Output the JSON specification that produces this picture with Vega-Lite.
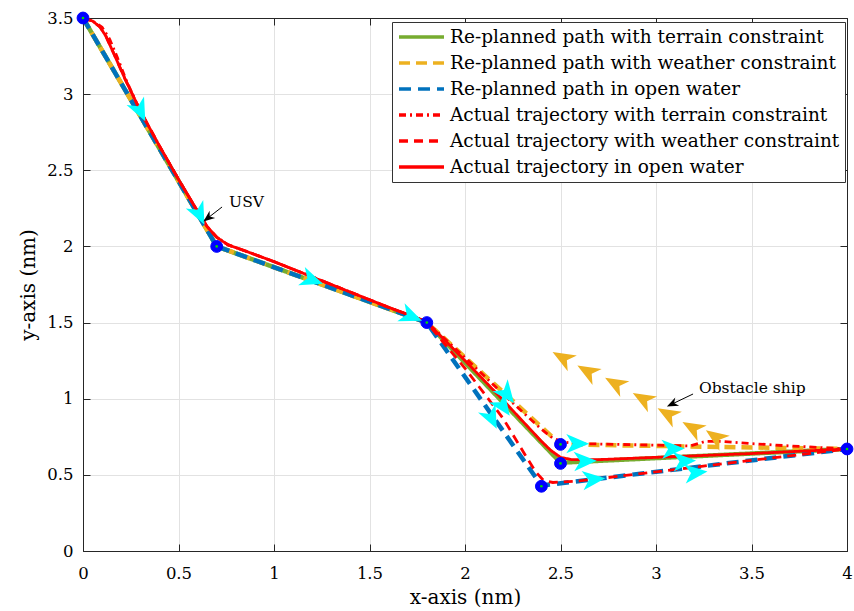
{
  "$schema": "https://vega.github.io/schema/vega-lite/v6.json",
  "width": 764,
  "height": 533,
  "autosize": {"type": "none"},
  "padding": {"left": 83, "top": 18, "right": 7, "bottom": 60},
  "background": "white",
  "config": {
    "view": {"stroke": "#262626", "strokeWidth": 1},
    "font": "DejaVu Serif",
    "axis": {
      "labelFont": "DejaVu Serif",
      "titleFont": "DejaVu Serif",
      "labelFontSize": 16.5,
      "titleFontSize": 20,
      "titleFontWeight": "normal",
      "labelColor": "black",
      "titleColor": "black",
      "domainColor": "#262626",
      "tickColor": "#262626",
      "gridColor": "#e2e2e2",
      "tickSize": -7,
      "labelFlush": false
    }
  },
  "datasets": {
    "lines": [
      {"series": "Re-planned path with terrain constraint", "i": 0, "x": 0, "y": 3.5},
      {"series": "Re-planned path with terrain constraint", "i": 1, "x": 0.7, "y": 2.0},
      {"series": "Re-planned path with terrain constraint", "i": 2, "x": 1.8, "y": 1.5},
      {"series": "Re-planned path with terrain constraint", "i": 3, "x": 2.5, "y": 0.58},
      {"series": "Re-planned path with terrain constraint", "i": 4, "x": 4.0, "y": 0.67},
      {"series": "Re-planned path with weather constraint", "i": 0, "x": 0, "y": 3.5},
      {"series": "Re-planned path with weather constraint", "i": 1, "x": 0.7, "y": 2.0},
      {"series": "Re-planned path with weather constraint", "i": 2, "x": 1.8, "y": 1.5},
      {"series": "Re-planned path with weather constraint", "i": 3, "x": 2.5, "y": 0.7},
      {"series": "Re-planned path with weather constraint", "i": 4, "x": 4.0, "y": 0.67},
      {"series": "Re-planned path in open water", "i": 0, "x": 0, "y": 3.5},
      {"series": "Re-planned path in open water", "i": 1, "x": 0.7, "y": 2.0},
      {"series": "Re-planned path in open water", "i": 2, "x": 1.8, "y": 1.5},
      {"series": "Re-planned path in open water", "i": 3, "x": 2.4, "y": 0.43},
      {"series": "Re-planned path in open water", "i": 4, "x": 4.0, "y": 0.67},

      {"series": "Actual trajectory with terrain constraint", "i": 0, "x": 0, "y": 3.5},
      {"series": "Actual trajectory with terrain constraint", "i": 1, "x": 0.05, "y": 3.48},
      {"series": "Actual trajectory with terrain constraint", "i": 2, "x": 0.1, "y": 3.44},
      {"series": "Actual trajectory with terrain constraint", "i": 3, "x": 0.14, "y": 3.36},
      {"series": "Actual trajectory with terrain constraint", "i": 4, "x": 0.18, "y": 3.24},
      {"series": "Actual trajectory with terrain constraint", "i": 5, "x": 0.23, "y": 3.08},
      {"series": "Actual trajectory with terrain constraint", "i": 6, "x": 0.3, "y": 2.89},
      {"series": "Actual trajectory with terrain constraint", "i": 7, "x": 0.4, "y": 2.66},
      {"series": "Actual trajectory with terrain constraint", "i": 8, "x": 0.5, "y": 2.44},
      {"series": "Actual trajectory with terrain constraint", "i": 9, "x": 0.6, "y": 2.23},
      {"series": "Actual trajectory with terrain constraint", "i": 10, "x": 0.65, "y": 2.13},
      {"series": "Actual trajectory with terrain constraint", "i": 11, "x": 0.7, "y": 2.06},
      {"series": "Actual trajectory with terrain constraint", "i": 12, "x": 0.76, "y": 2.01},
      {"series": "Actual trajectory with terrain constraint", "i": 13, "x": 0.85, "y": 1.97},
      {"series": "Actual trajectory with terrain constraint", "i": 14, "x": 1.0, "y": 1.9},
      {"series": "Actual trajectory with terrain constraint", "i": 15, "x": 1.2, "y": 1.8},
      {"series": "Actual trajectory with terrain constraint", "i": 16, "x": 1.4, "y": 1.7},
      {"series": "Actual trajectory with terrain constraint", "i": 17, "x": 1.6, "y": 1.6},
      {"series": "Actual trajectory with terrain constraint", "i": 18, "x": 1.75, "y": 1.53},
      {"series": "Actual trajectory with terrain constraint", "i": 19, "x": 1.8, "y": 1.5},
      {"series": "Actual trajectory with terrain constraint", "i": 20, "x": 1.85, "y": 1.445},
      {"series": "Actual trajectory with terrain constraint", "i": 21, "x": 2.0, "y": 1.27},
      {"series": "Actual trajectory with terrain constraint", "i": 22, "x": 2.2, "y": 1.03},
      {"series": "Actual trajectory with terrain constraint", "i": 23, "x": 2.4, "y": 0.8},
      {"series": "Actual trajectory with terrain constraint", "i": 24, "x": 2.46, "y": 0.74},
      {"series": "Actual trajectory with terrain constraint", "i": 25, "x": 2.52, "y": 0.715},
      {"series": "Actual trajectory with terrain constraint", "i": 26, "x": 2.6, "y": 0.705},
      {"series": "Actual trajectory with terrain constraint", "i": 27, "x": 2.8, "y": 0.7},
      {"series": "Actual trajectory with terrain constraint", "i": 28, "x": 3.0, "y": 0.695},
      {"series": "Actual trajectory with terrain constraint", "i": 29, "x": 3.18, "y": 0.69},
      {"series": "Actual trajectory with terrain constraint", "i": 30, "x": 3.26, "y": 0.72},
      {"series": "Actual trajectory with terrain constraint", "i": 31, "x": 3.34, "y": 0.72},
      {"series": "Actual trajectory with terrain constraint", "i": 32, "x": 3.5, "y": 0.705},
      {"series": "Actual trajectory with terrain constraint", "i": 33, "x": 3.7, "y": 0.69},
      {"series": "Actual trajectory with terrain constraint", "i": 34, "x": 3.85, "y": 0.68},
      {"series": "Actual trajectory with terrain constraint", "i": 35, "x": 4.0, "y": 0.67},

      {"series": "Actual trajectory with weather constraint", "i": 0, "x": 0, "y": 3.5},
      {"series": "Actual trajectory with weather constraint", "i": 1, "x": 0.05, "y": 3.48},
      {"series": "Actual trajectory with weather constraint", "i": 2, "x": 0.09, "y": 3.44},
      {"series": "Actual trajectory with weather constraint", "i": 3, "x": 0.12, "y": 3.38},
      {"series": "Actual trajectory with weather constraint", "i": 4, "x": 0.16, "y": 3.27},
      {"series": "Actual trajectory with weather constraint", "i": 5, "x": 0.22, "y": 3.1},
      {"series": "Actual trajectory with weather constraint", "i": 6, "x": 0.3, "y": 2.89},
      {"series": "Actual trajectory with weather constraint", "i": 7, "x": 0.4, "y": 2.66},
      {"series": "Actual trajectory with weather constraint", "i": 8, "x": 0.5, "y": 2.44},
      {"series": "Actual trajectory with weather constraint", "i": 9, "x": 0.6, "y": 2.23},
      {"series": "Actual trajectory with weather constraint", "i": 10, "x": 0.65, "y": 2.13},
      {"series": "Actual trajectory with weather constraint", "i": 11, "x": 0.7, "y": 2.06},
      {"series": "Actual trajectory with weather constraint", "i": 12, "x": 0.76, "y": 2.01},
      {"series": "Actual trajectory with weather constraint", "i": 13, "x": 0.85, "y": 1.97},
      {"series": "Actual trajectory with weather constraint", "i": 14, "x": 1.0, "y": 1.9},
      {"series": "Actual trajectory with weather constraint", "i": 15, "x": 1.2, "y": 1.8},
      {"series": "Actual trajectory with weather constraint", "i": 16, "x": 1.4, "y": 1.7},
      {"series": "Actual trajectory with weather constraint", "i": 17, "x": 1.6, "y": 1.6},
      {"series": "Actual trajectory with weather constraint", "i": 18, "x": 1.75, "y": 1.53},
      {"series": "Actual trajectory with weather constraint", "i": 19, "x": 1.8, "y": 1.5},
      {"series": "Actual trajectory with weather constraint", "i": 20, "x": 1.84, "y": 1.44},
      {"series": "Actual trajectory with weather constraint", "i": 21, "x": 2.0, "y": 1.2},
      {"series": "Actual trajectory with weather constraint", "i": 22, "x": 2.2, "y": 0.87},
      {"series": "Actual trajectory with weather constraint", "i": 23, "x": 2.32, "y": 0.62},
      {"series": "Actual trajectory with weather constraint", "i": 24, "x": 2.37, "y": 0.52},
      {"series": "Actual trajectory with weather constraint", "i": 25, "x": 2.41, "y": 0.465},
      {"series": "Actual trajectory with weather constraint", "i": 26, "x": 2.46, "y": 0.45},
      {"series": "Actual trajectory with weather constraint", "i": 27, "x": 2.6, "y": 0.46},
      {"series": "Actual trajectory with weather constraint", "i": 28, "x": 3.0, "y": 0.52},
      {"series": "Actual trajectory with weather constraint", "i": 29, "x": 3.5, "y": 0.595},
      {"series": "Actual trajectory with weather constraint", "i": 30, "x": 4.0, "y": 0.67},

      {"series": "Actual trajectory in open water", "i": 0, "x": 0, "y": 3.5},
      {"series": "Actual trajectory in open water", "i": 1, "x": 0.05, "y": 3.48},
      {"series": "Actual trajectory in open water", "i": 2, "x": 0.09, "y": 3.44},
      {"series": "Actual trajectory in open water", "i": 3, "x": 0.12, "y": 3.38},
      {"series": "Actual trajectory in open water", "i": 4, "x": 0.16, "y": 3.27},
      {"series": "Actual trajectory in open water", "i": 5, "x": 0.22, "y": 3.1},
      {"series": "Actual trajectory in open water", "i": 6, "x": 0.3, "y": 2.89},
      {"series": "Actual trajectory in open water", "i": 7, "x": 0.4, "y": 2.66},
      {"series": "Actual trajectory in open water", "i": 8, "x": 0.5, "y": 2.44},
      {"series": "Actual trajectory in open water", "i": 9, "x": 0.6, "y": 2.23},
      {"series": "Actual trajectory in open water", "i": 10, "x": 0.65, "y": 2.13},
      {"series": "Actual trajectory in open water", "i": 11, "x": 0.7, "y": 2.06},
      {"series": "Actual trajectory in open water", "i": 12, "x": 0.76, "y": 2.01},
      {"series": "Actual trajectory in open water", "i": 13, "x": 0.85, "y": 1.97},
      {"series": "Actual trajectory in open water", "i": 14, "x": 1.0, "y": 1.9},
      {"series": "Actual trajectory in open water", "i": 15, "x": 1.2, "y": 1.8},
      {"series": "Actual trajectory in open water", "i": 16, "x": 1.4, "y": 1.7},
      {"series": "Actual trajectory in open water", "i": 17, "x": 1.6, "y": 1.6},
      {"series": "Actual trajectory in open water", "i": 18, "x": 1.75, "y": 1.53},
      {"series": "Actual trajectory in open water", "i": 19, "x": 1.8, "y": 1.5},
      {"series": "Actual trajectory in open water", "i": 20, "x": 1.85, "y": 1.44},
      {"series": "Actual trajectory in open water", "i": 21, "x": 2.0, "y": 1.25},
      {"series": "Actual trajectory in open water", "i": 22, "x": 2.2, "y": 0.99},
      {"series": "Actual trajectory in open water", "i": 23, "x": 2.4, "y": 0.72},
      {"series": "Actual trajectory in open water", "i": 24, "x": 2.45, "y": 0.66},
      {"series": "Actual trajectory in open water", "i": 25, "x": 2.5, "y": 0.615},
      {"series": "Actual trajectory in open water", "i": 26, "x": 2.56, "y": 0.6},
      {"series": "Actual trajectory in open water", "i": 27, "x": 2.7, "y": 0.6},
      {"series": "Actual trajectory in open water", "i": 28, "x": 3.0, "y": 0.615},
      {"series": "Actual trajectory in open water", "i": 29, "x": 3.5, "y": 0.64},
      {"series": "Actual trajectory in open water", "i": 30, "x": 4.0, "y": 0.67}
    ],
    "waypoints": [
      {"x": 0, "y": 3.5}, {"x": 0.7, "y": 2.0}, {"x": 1.8, "y": 1.5},
      {"x": 2.5, "y": 0.7}, {"x": 2.5, "y": 0.575}, {"x": 2.4, "y": 0.425}, {"x": 4.0, "y": 0.67}
    ],
    "usv": [
      {"x": 0.3, "y": 2.89, "heading": 64},
      {"x": 0.61, "y": 2.21, "heading": 64},
      {"x": 1.2, "y": 1.78, "heading": 20},
      {"x": 1.72, "y": 1.54, "heading": 22},
      {"x": 2.22, "y": 1.03, "heading": 52},
      {"x": 2.2, "y": 0.95, "heading": 55},
      {"x": 2.14, "y": 0.87, "heading": 64},
      {"x": 2.59, "y": 0.705, "heading": 0},
      {"x": 2.63, "y": 0.59, "heading": -2},
      {"x": 2.675, "y": 0.47, "heading": -6},
      {"x": 3.09, "y": 0.67, "heading": -2},
      {"x": 3.15, "y": 0.59, "heading": -3},
      {"x": 3.21, "y": 0.515, "heading": -6}
    ],
    "ship": [
      {"x": 2.51, "y": 1.27, "heading": 210},
      {"x": 2.64, "y": 1.18, "heading": 210},
      {"x": 2.785, "y": 1.1, "heading": 210},
      {"x": 2.93, "y": 1.0, "heading": 210},
      {"x": 3.06, "y": 0.9, "heading": 210},
      {"x": 3.19, "y": 0.81, "heading": 210},
      {"x": 3.31, "y": 0.75, "heading": 215}
    ],
    "notes": [
      {"label": "USV", "x": 0.765, "y": 2.29, "tx": 0.728, "ty": 2.259, "hx": 0.654, "hy": 2.187, "heading": 142},
      {"label": "Obstacle ship", "x": 3.225, "y": 1.07, "tx": 3.194, "ty": 1.031, "hx": 3.084, "hy": 0.965, "heading": 155}
    ]
  },
  "resolve": {"axis": {"x": "independent", "y": "independent"}},
  "layer": [
    {
      "data": {"name": "lines"},
      "transform": [{"filter": "datum.series === 'Re-planned path with terrain constraint'"}],
      "mark": {"type": "line", "strokeWidth": 4.5},
      "encoding": {
        "x": {"field": "x", "type": "quantitative",
              "scale": {"domain": [0, 4], "nice": false, "zero": false},
              "axis": {"values": [0, 0.5, 1, 1.5, 2, 2.5, 3, 3.5, 4], "format": "~g", "title": "x-axis (nm)", "labelFlush": false,
                       "labelFont": "DejaVu Serif", "titleFont": "DejaVu Serif", "labelPadding": 21, "titlePadding": 6, "grid": true}},
        "y": {"field": "y", "type": "quantitative",
              "scale": {"domain": [0, 3.5], "nice": false, "zero": false},
              "axis": {"values": [0, 0.5, 1, 1.5, 2, 2.5, 3, 3.5], "format": "~g", "title": "y-axis (nm)", "labelFlush": false,
                       "labelFont": "DejaVu Serif", "titleFont": "DejaVu Serif", "labelPadding": 17, "titlePadding": 8, "grid": true}},
        "order": {"field": "i", "type": "quantitative"},
        "color": {"field": "series", "type": "nominal",
                  "scale": {"domain": ["Re-planned path with terrain constraint", "Re-planned path with weather constraint", "Re-planned path in open water", "Actual trajectory with terrain constraint", "Actual trajectory with weather constraint", "Actual trajectory in open water"],
                            "range": ["#77AC30", "#EDB120", "#0072BD", "#FF0000", "#FF0000", "#FF0000"]},
                  "legend": {"title": null, "orient": "none", "legendX": 309, "legendY": 4,
                             "symbolType": "stroke", "symbolSize": 2025, "symbolStrokeWidth": 3.5, "clipHeight": 20,
                             "labelFont": "DejaVu Serif", "labelFontSize": 18.5, "labelColor": "black", "labelLimit": 600,
                             "strokeColor": "#333333", "fillColor": "white", "padding": 5, "rowPadding": 6, "labelOffset": 4}},
        "strokeDash": {"field": "series", "type": "nominal",
                  "scale": {"domain": ["Re-planned path with terrain constraint", "Re-planned path with weather constraint", "Re-planned path in open water", "Actual trajectory with terrain constraint", "Actual trajectory with weather constraint", "Actual trajectory in open water"],
                            "range": [[1, 0], [11, 6], [12, 7], [7, 4, 2, 4], [9, 6], [1, 0]]},
                  "legend": {"title": null, "orient": "none", "legendX": 309, "legendY": 4,
                             "symbolType": "stroke", "symbolSize": 2025, "symbolStrokeWidth": 3.5, "clipHeight": 20,
                             "labelFont": "DejaVu Serif", "labelFontSize": 18.5, "labelColor": "black", "labelLimit": 600,
                             "strokeColor": "#333333", "fillColor": "white", "padding": 5, "rowPadding": 6, "labelOffset": 4}}
      }
    },
    {
      "data": {"name": "lines"},
      "transform": [{"filter": "datum.series === 'Re-planned path with weather constraint'"}],
      "mark": {"type": "line", "strokeWidth": 4.5},
      "encoding": {
        "x": {"field": "x", "type": "quantitative", "axis": null},
        "y": {"field": "y", "type": "quantitative", "axis": null},
        "order": {"field": "i", "type": "quantitative"},
        "color": {"field": "series", "type": "nominal"},
        "strokeDash": {"field": "series", "type": "nominal"}
      }
    },
    {
      "data": {"name": "lines"},
      "transform": [{"filter": "datum.series === 'Re-planned path in open water'"}],
      "mark": {"type": "line", "strokeWidth": 4.5},
      "encoding": {
        "x": {"field": "x", "type": "quantitative", "axis": null},
        "y": {"field": "y", "type": "quantitative", "axis": null},
        "order": {"field": "i", "type": "quantitative"},
        "color": {"field": "series", "type": "nominal"},
        "strokeDash": {"field": "series", "type": "nominal"}
      }
    },
    {
      "data": {"name": "lines"},
      "transform": [{"filter": "indexof(datum.series, 'Actual') === 0"}],
      "mark": {"type": "line", "strokeWidth": 2.8},
      "encoding": {
        "x": {"field": "x", "type": "quantitative", "axis": null},
        "y": {"field": "y", "type": "quantitative", "axis": null},
        "order": {"field": "i", "type": "quantitative"},
        "color": {"field": "series", "type": "nominal"},
        "strokeDash": {"field": "series", "type": "nominal"}
      }
    },
    {
      "data": {"name": "waypoints"},
      "mark": {"type": "point", "shape": "circle", "filled": true, "fill": "#0000FF", "stroke": "#0000FF", "strokeWidth": 1, "size": 140, "opacity": 1},
      "encoding": {
        "x": {"field": "x", "type": "quantitative",
              "axis": {"orient": "top", "labels": false, "grid": false, "title": null, "values": [0, 0.5, 1, 1.5, 2, 2.5, 3, 3.5, 4]}},
        "y": {"field": "y", "type": "quantitative",
              "axis": {"orient": "right", "labels": false, "grid": false, "title": null, "values": [0, 0.5, 1, 1.5, 2, 2.5, 3, 3.5]}}
      }
    },
    {
      "data": {"name": "waypoints"},
      "mark": {"type": "point", "shape": "circle", "filled": true, "fill": "#00DD00", "size": 7, "opacity": 1},
      "encoding": {
        "x": {"field": "x", "type": "quantitative", "axis": null},
        "y": {"field": "y", "type": "quantitative", "axis": null}
      }
    },
    {
      "data": {"name": "usv"},
      "mark": {"type": "point", "shape": "M1,0 L-1,-0.85 L-0.45,0 L-1,0.85 Z", "filled": true, "fill": "#00FFFF", "strokeWidth": 0, "size": 520, "opacity": 1},
      "encoding": {
        "x": {"field": "x", "type": "quantitative", "axis": null},
        "y": {"field": "y", "type": "quantitative", "axis": null},
        "angle": {"field": "heading", "type": "quantitative", "scale": null}
      }
    },
    {
      "data": {"name": "ship"},
      "mark": {"type": "point", "shape": "M1,0 L-1,-0.8 L-0.45,0 L-1,0.8 Z", "filled": true, "fill": "#EDB120", "strokeWidth": 0, "size": 520, "opacity": 1},
      "encoding": {
        "x": {"field": "x", "type": "quantitative", "axis": null},
        "y": {"field": "y", "type": "quantitative", "axis": null},
        "angle": {"field": "heading", "type": "quantitative", "scale": null}
      }
    },
    {
      "data": {"name": "notes"},
      "mark": {"type": "rule", "color": "black", "strokeWidth": 1},
      "encoding": {
        "x": {"field": "tx", "type": "quantitative", "axis": null},
        "y": {"field": "ty", "type": "quantitative", "axis": null},
        "x2": {"field": "hx"},
        "y2": {"field": "hy"}
      }
    },
    {
      "data": {"name": "notes"},
      "mark": {"type": "point", "shape": "M1,0 L-1,-0.8 L-0.4,0 L-1,0.8 Z", "filled": true, "fill": "black", "strokeWidth": 0, "size": 130, "opacity": 1},
      "encoding": {
        "x": {"field": "hx", "type": "quantitative", "axis": null},
        "y": {"field": "hy", "type": "quantitative", "axis": null},
        "angle": {"field": "heading", "type": "quantitative", "scale": null}
      }
    },
    {
      "data": {"name": "notes"},
      "mark": {"type": "text", "align": "left", "baseline": "middle", "font": "DejaVu Serif", "fontSize": 15.5, "color": "black"},
      "encoding": {
        "x": {"field": "x", "type": "quantitative", "axis": null},
        "y": {"field": "y", "type": "quantitative", "axis": null},
        "text": {"field": "label"}
      }
    }
  ]
}
